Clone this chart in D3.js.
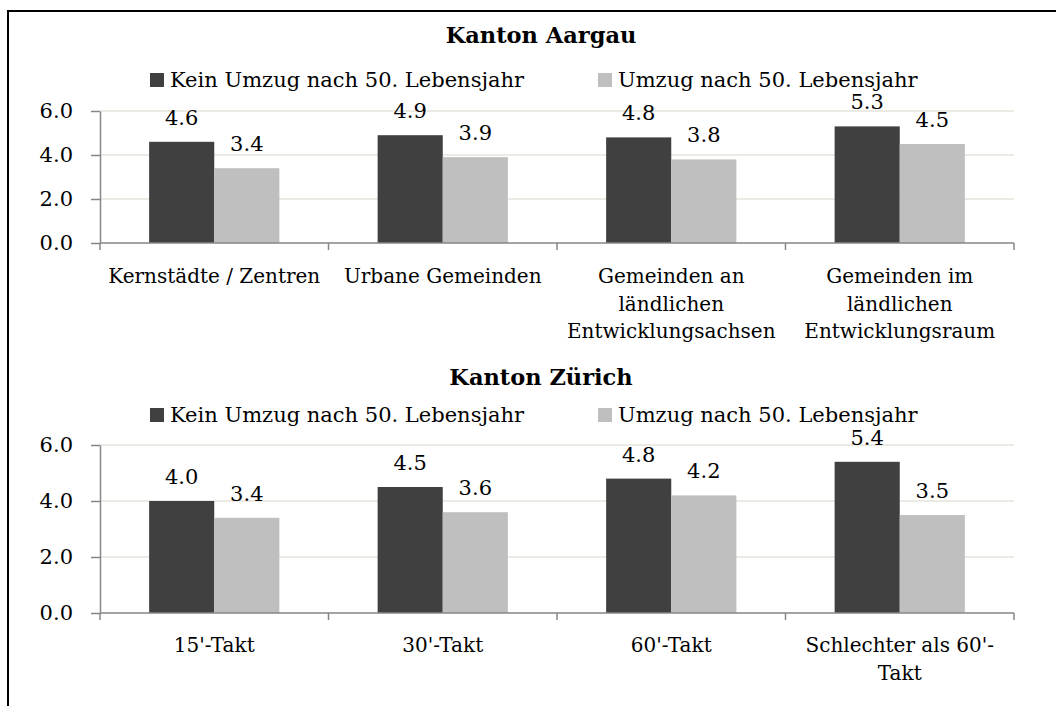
<!DOCTYPE html>
<html lang="de">
<head>
<meta charset="utf-8">
<title>Umzug nach 50. Lebensjahr</title>
<script src="https://cdn.jsdelivr.net/npm/d3@7"></script>
<style>
  body { margin: 0; background: #fff; }
  svg text { font-family: "DejaVu Serif", serif; fill: #000; }
  .grid line { stroke: #e6e4da; stroke-width: 1.3px; }
  .axis path, .axis line { stroke: #868686; stroke-width: 1.5px; }
</style>
</head>
<body>
<svg id="chart" width="1056" height="706"></svg>
<script>
// ---- data ----
var seriesNames = ["Kein Umzug nach 50. Lebensjahr", "Umzug nach 50. Lebensjahr"];
var seriesColors = ["#404040", "#bfbfbf"];

var aargauCategories = ["Kernstädte / Zentren", "Urbane Gemeinden",
  "Gemeinden an\nländlichen\nEntwicklungsachsen", "Gemeinden im\nländlichen\nEntwicklungsraum"];
var aargauKein = [4.6, 4.9, 4.8, 5.3];
var aargauUmzug = [3.4, 3.9, 3.8, 4.5];

var zuerichCategories = ["15'-Takt", "30'-Takt", "60'-Takt", "Schlechter als 60'-\nTakt"];
var zuerichKein = [4.0, 4.5, 4.8, 5.4];
var zuerichUmzug = [3.4, 3.6, 4.2, 3.5];

var yTicks = [0, 2, 4, 6];

var fs = "21px";

var svg = d3.select("#chart");

// frame (top + left only)
svg.append("path")
  .attr("d", "M8,706 L8,11 L1056,11")
  .attr("fill", "none")
  .attr("stroke", "#000")
  .attr("stroke-width", 2);

function drawPanel(p) {
  var g = svg.append("g");

  var x = d3.scaleBand()
    .domain(p.categories)
    .range([100, 1014])
    .paddingInner(0.43)
    .paddingOuter(0.215);

  var xs = d3.scaleBand()
    .domain([0, 1])
    .range([0, x.bandwidth()]);

  var y = d3.scaleLinear()
    .domain([0, 6])
    .range([p.bottom, p.top]);

  // title
  g.append("text")
    .attr("x", 541)
    .attr("y", p.titleY)
    .attr("text-anchor", "middle")
    .attr("dominant-baseline", "central")
    .style("font-weight", "bold")
    .style("font-size", "22.5px")
    .text(p.title);

  // legend
  var legX = [150, 598];
  seriesNames.forEach(function(name, i) {
    g.append("rect")
      .attr("x", legX[i])
      .attr("y", p.legendY - 7)
      .attr("width", 14)
      .attr("height", 14)
      .attr("fill", seriesColors[i]);
    g.append("text")
      .attr("x", legX[i] + 20)
      .attr("y", p.legendY)
      .attr("dominant-baseline", "central")
      .style("font-size", fs)
      .text(name);
  });

  // gridlines
  g.append("g")
    .attr("class", "grid")
    .selectAll("line")
    .data(yTicks.filter(function(d) { return d > 0; }))
    .enter().append("line")
      .attr("x1", 100)
      .attr("x2", 1014)
      .attr("y1", function(d) { return y(d); })
      .attr("y2", function(d) { return y(d); });

  // bars
  var rows = p.categories.map(function(c, i) {
    return { cat: c, values: [p.kein[i], p.umzug[i]] };
  });

  var groups = g.selectAll(".cat")
      .data(rows)
    .enter().append("g")
      .attr("transform", function(d) { return "translate(" + x(d.cat) + ",0)"; });

  groups.selectAll("rect")
      .data(function(d) { return d.values; })
    .enter().append("rect")
      .attr("x", function(d, i) { return xs(i); })
      .attr("width", xs.bandwidth())
      .attr("y", function(d) { return y(d); })
      .attr("height", function(d) { return y(0) - y(d); })
      .attr("fill", function(d, i) { return seriesColors[i]; });

  groups.selectAll(".val")
      .data(function(d) { return d.values; })
    .enter().append("text")
      .attr("x", function(d, i) { return xs(i) + xs.bandwidth() / 2; })
      .attr("y", function(d) { return y(d) - 17; })
      .attr("text-anchor", "middle")
      .style("font-size", fs)
      .text(function(d) { return d.toFixed(1); });

  // y axis
  var yAxis = g.append("g")
    .attr("class", "axis")
    .attr("transform", "translate(100,0)")
    .call(d3.axisLeft(y).tickValues(yTicks).tickSize(9).tickSizeOuter(0)
      .tickFormat(d3.format(".1f")));
  yAxis.selectAll("text")
    .attr("x", -27)
    .style("font-size", fs);

  // x axis (ticks at category boundaries)
  var xAxisG = g.append("g")
    .attr("class", "axis");
  xAxisG.append("line")
    .attr("x1", 100).attr("x2", 1014)
    .attr("y1", y(0)).attr("y2", y(0));
  var bounds = p.categories.map(function(c) { return x(c) - x.step() * x.paddingOuter(); });
  bounds.push(x.range()[1]);
  xAxisG.selectAll(".xt")
    .data(bounds)
    .enter().append("line")
      .attr("x1", function(d) { return d; })
      .attr("x2", function(d) { return d; })
      .attr("y1", y(0))
      .attr("y2", y(0) + 7);

  // category labels
  var labels = g.selectAll(".lab")
      .data(p.categories)
    .enter().append("text")
      .attr("text-anchor", "middle")
      .style("font-size", "20px")
      .attr("transform", function(d) {
        return "translate(" + (x(d) + x.bandwidth() / 2) + "," + p.labelY + ")";
      });
  labels.selectAll("tspan")
      .data(function(d) { return d.split("\n"); })
    .enter().append("tspan")
      .attr("x", 0)
      .attr("y", function(d, i) { return i * 27.5; })
      .attr("dominant-baseline", "central")
      .text(function(d) { return d; });
}

drawPanel({
  title: "Kanton Aargau",
  categories: aargauCategories,
  kein: aargauKein,
  umzug: aargauUmzug,
  titleY: 35, legendY: 80,
  top: 111, bottom: 243,
  labelY: 276
});

drawPanel({
  title: "Kanton Zürich",
  categories: zuerichCategories,
  kein: zuerichKein,
  umzug: zuerichUmzug,
  titleY: 377, legendY: 415,
  top: 445, bottom: 613,
  labelY: 645
});
</script>
</body>
</html>
